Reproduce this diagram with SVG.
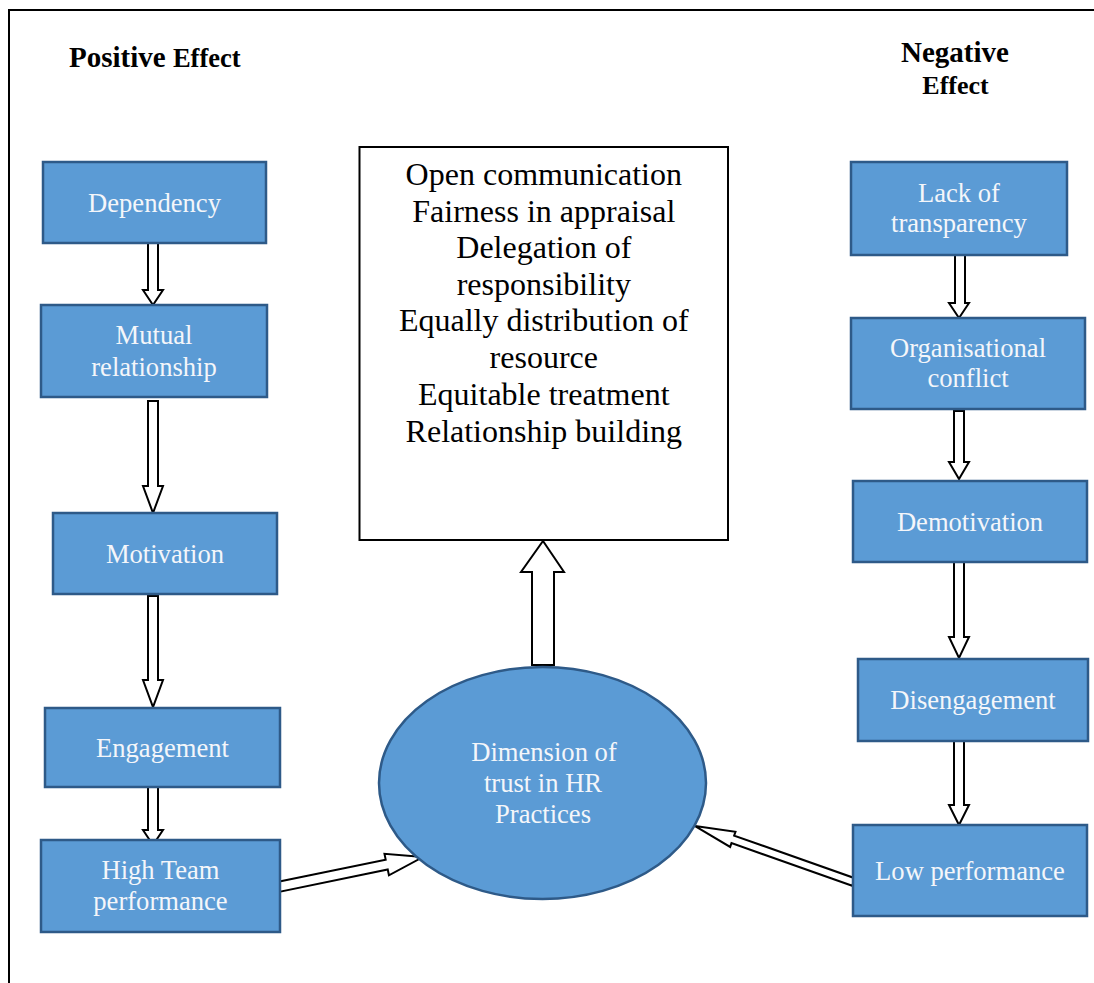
<svg xmlns="http://www.w3.org/2000/svg" width="1094" height="983" viewBox="0 0 1094 983">
  <style>
    .node { fill: #5B9BD5; stroke: #2E5A88; stroke-width: 2.5; }
    .label { font-family: "Liberation Serif", "Times New Roman", serif; font-size: 26.6px; fill: #F4F6FA; text-anchor: middle; }
    .list { font-family: "Liberation Serif", "Times New Roman", serif; font-size: 32px; fill: #000; text-anchor: middle; }
    .title { font-family: "Liberation Serif", "Times New Roman", serif; font-weight: bold; fill: #000; }
    .arrow { fill: #FFFFFF; stroke: #000; stroke-width: 2; stroke-linejoin: miter; }
    .frame { fill: none; stroke: #000; stroke-width: 2; }
  </style>

  <rect x="0" y="0" width="1094" height="983" fill="#FFFFFF"/>

  <!-- outer frame (open to right and bottom) -->
  <path class="frame" d="M9,983 V10 H1094"/>

  <!-- column headings -->
  <text class="title" x="69" y="67" font-size="29">Positive <tspan font-size="26.5">Effect</tspan></text>
  <text class="title" x="955" y="62" font-size="29" text-anchor="middle">Negative</text>
  <text class="title" x="955.5" y="94" font-size="26" text-anchor="middle">Effect</text>

  <!-- connectors -->
  <g id="connectors">
    <!-- left column -->
    <polygon class="arrow" points="148,243 158,243 158,290 163,290 153,305 143,290 148,290"/>
    <polygon class="arrow" points="148,401 158,401 158,486 163,486 153,513 143,486 148,486"/>
    <polygon class="arrow" points="148,596 158,596 158,680 163,680 153,707 143,680 148,680"/>
    <polygon class="arrow" points="148,787 158,787 158,830 163,830 153,845 143,830 148,830"/>
    <!-- right column -->
    <polygon class="arrow" points="955,255 965,255 965,303 969,303 959,318 949,303 955,303"/>
    <polygon class="arrow" points="954,411 964,411 964,462 969,462 959,479 949,462 954,462"/>
    <polygon class="arrow" points="954,562 964,562 964,637 969,637 959,658 949,637 954,637"/>
    <polygon class="arrow" points="954,741 964,741 964,805 969,805 959,825 949,805 954,805"/>
    <!-- ellipse to practices box -->
    <polygon class="arrow" points="532,665 554,665 554,572 564,572 543,541 521,572 532,572"/>
    <!-- high team performance to ellipse -->
    <polygon class="arrow" transform="translate(278,887) rotate(-11.69)" points="0,-5 111,-5 111,-11 148,0 111,11 111,5 0,5"/>
    <!-- low performance to ellipse -->
    <polygon class="arrow" transform="translate(853.5,882) rotate(-160.54)" points="0,-4 128,-4 128,-8 168,0 128,8 128,4 0,4"/>
  </g>

  <!-- positive effect column -->
  <g id="dependency">
    <rect class="node" x="43" y="162" width="223" height="81"/>
    <text class="label" x="154.5" y="212">Dependency</text>
  </g>
  <g id="mutual-relationship">
    <rect class="node" x="41" y="305" width="226" height="92"/>
    <text class="label" x="154" y="344">Mutual</text>
    <text class="label" x="154" y="376">relationship</text>
  </g>
  <g id="motivation">
    <rect class="node" x="53" y="513" width="224" height="81"/>
    <text class="label" x="165" y="563">Motivation</text>
  </g>
  <g id="engagement">
    <rect class="node" x="45" y="708" width="235" height="79"/>
    <text class="label" x="162.5" y="757">Engagement</text>
  </g>
  <g id="high-team-performance">
    <rect class="node" x="41" y="840" width="239" height="92"/>
    <text class="label" x="160.5" y="879">High Team</text>
    <text class="label" x="160.5" y="910">performance</text>
  </g>

  <!-- negative effect column -->
  <g id="lack-of-transparency">
    <rect class="node" x="851" y="162" width="216" height="93"/>
    <text class="label" x="959" y="202">Lack of</text>
    <text class="label" x="959" y="232">transparency</text>
  </g>
  <g id="organisational-conflict">
    <rect class="node" x="851" y="318" width="234" height="91"/>
    <text class="label" x="968" y="357">Organisational</text>
    <text class="label" x="968" y="387">conflict</text>
  </g>
  <g id="demotivation">
    <rect class="node" x="853" y="481" width="234" height="81"/>
    <text class="label" x="970" y="531">Demotivation</text>
  </g>
  <g id="disengagement">
    <rect class="node" x="858" y="659" width="230" height="82"/>
    <text class="label" x="973" y="709">Disengagement</text>
  </g>
  <g id="low-performance">
    <rect class="node" x="853" y="825" width="234" height="91"/>
    <text class="label" x="970" y="880">Low performance</text>
  </g>

  <!-- centre -->
  <g id="hr-practices">
    <rect x="359.5" y="147" width="368.5" height="393" fill="#FFFFFF" stroke="#000" stroke-width="2"/>
    <text class="list" x="543.8" y="185">Open communication</text>
    <text class="list" x="543.8" y="222">Fairness in appraisal</text>
    <text class="list" x="543.8" y="258">Delegation of</text>
    <text class="list" x="543.8" y="295">responsibility</text>
    <text class="list" x="543.8" y="331">Equally distribution of</text>
    <text class="list" x="543.8" y="368">resource</text>
    <text class="list" x="543.8" y="405">Equitable treatment</text>
    <text class="list" x="543.8" y="442">Relationship building</text>
  </g>
  <g id="trust-dimension">
    <ellipse class="node" cx="542.5" cy="783" rx="163.5" ry="116"/>
    <text class="label" x="544" y="761">Dimension of</text>
    <text class="label" x="543" y="792">trust in HR</text>
    <text class="label" x="543" y="823">Practices</text>
  </g>
</svg>
